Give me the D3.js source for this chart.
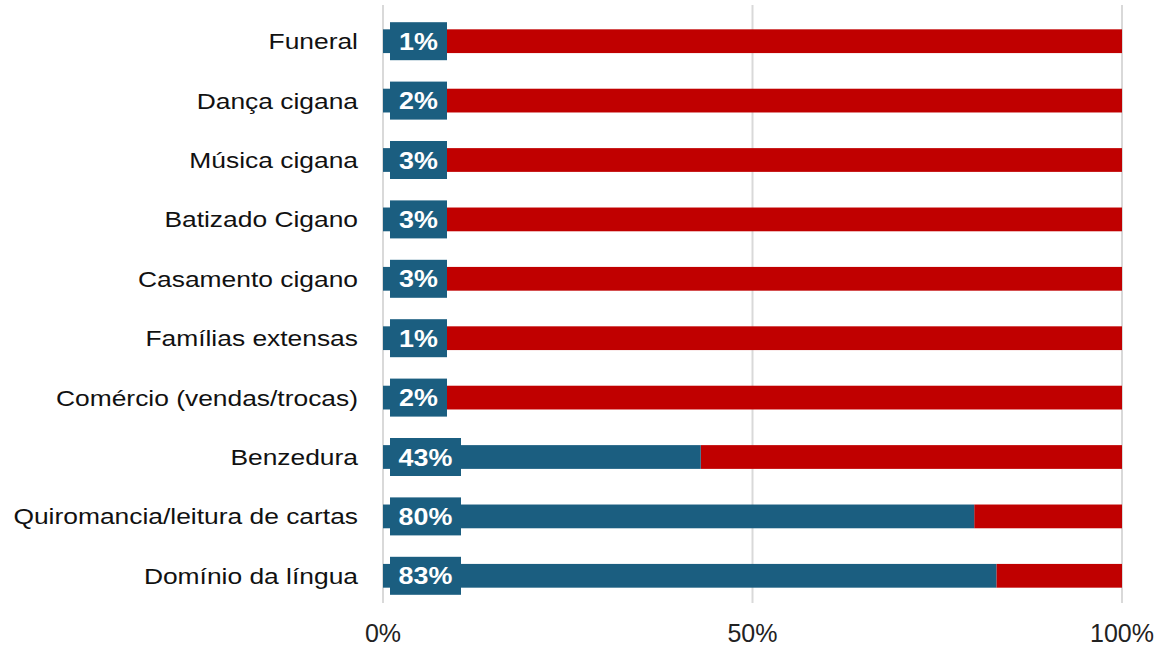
<!DOCTYPE html>
<html>
<head>
<meta charset="utf-8">
<script src="https://cdn.jsdelivr.net/npm/d3@7"></script>
<style>
  body { margin: 0; background: #fff; }
  svg { display: block; font-family: "Liberation Sans", Arial, sans-serif; }
</style>
</head>
<body>
<div id="chart"></div>
<script>
const categories = [
  "Funeral",
  "Dança cigana",
  "Música cigana",
  "Batizado Cigano",
  "Casamento cigano",
  "Famílias extensas",
  "Comércio (vendas/trocas)",
  "Benzedura",
  "Quiromancia/leitura de cartas",
  "Domínio da língua"
];
const yesValues = [1, 2, 3, 3, 3, 1, 2, 43, 80, 83];
const tickValues = [0, 50, 100];

const w = 1159;
const h = 646;

const blue = "#1b5e80";
const red = "#c00000";

const svg = d3
  .select("#chart")
  .append("svg")
  .attr("width", w)
  .attr("height", h);

const x = d3.scaleLinear().domain([0, 100]).range([383, 1122]);
const y = d3
  .scaleBand()
  .domain(categories)
  .range([11.5, 605.5])
  .paddingInner(0.6)
  .paddingOuter(0.3);

// gridlines
svg
  .selectAll("line.grid")
  .data(tickValues)
  .join("line")
  .attr("class", "grid")
  .attr("x1", (d) => x(d))
  .attr("x2", (d) => x(d))
  .attr("y1", 5)
  .attr("y2", 603)
  .attr("stroke", "#d9d9d9")
  .attr("stroke-width", 2);

// tick labels
svg
  .selectAll("text.tick")
  .data(tickValues)
  .join("text")
  .attr("class", "tick")
  .attr("x", (d) => x(d))
  .attr("y", 642)
  .attr("text-anchor", "middle")
  .attr("font-size", "25px")
  .attr("fill", "#222")
  .text((d) => d + "%");

const rows = svg
  .selectAll("g.row")
  .data(categories)
  .join("g")
  .attr("class", "row");

// red remainder
rows
  .append("rect")
  .attr("x", (d, i) => x(yesValues[i]))
  .attr("y", (d) => y(d))
  .attr("width", (d, i) => x(100) - x(yesValues[i]))
  .attr("height", y.bandwidth())
  .attr("fill", red);

// blue share
rows
  .append("rect")
  .attr("x", x(0))
  .attr("y", (d) => y(d))
  .attr("width", (d, i) => x(yesValues[i]) - x(0))
  .attr("height", y.bandwidth())
  .attr("fill", blue);

// category labels (slightly wide type, like the original)
rows
  .append("text")
  .attr("transform", (d) => `translate(358,${y(d) + y.bandwidth() / 2}) scale(1.2,1)`)
  .attr("dy", "0.36em")
  .attr("text-anchor", "end")
  .attr("font-size", "22px")
  .attr("fill", "#111")
  .text((d) => d);

// value label boxes
const boxW = (v) => (v >= 10 ? 71 : 57);

rows
  .append("rect")
  .attr("x", 390)
  .attr("y", (d) => y(d) + y.bandwidth() / 2 - 19)
  .attr("width", (d, i) => boxW(yesValues[i]))
  .attr("height", 38)
  .attr("fill", blue);

rows
  .append("text")
  .attr(
    "transform",
    (d, i) => `translate(${390 + boxW(yesValues[i]) / 2},${y(d) + y.bandwidth() / 2}) scale(1.12,1)`
  )
  .attr("dy", "0.36em")
  .attr("text-anchor", "middle")
  .attr("font-size", "24px")
  .attr("font-weight", "bold")
  .attr("fill", "#fff")
  .text((d, i) => yesValues[i] + "%");
</script>
</body>
</html>
